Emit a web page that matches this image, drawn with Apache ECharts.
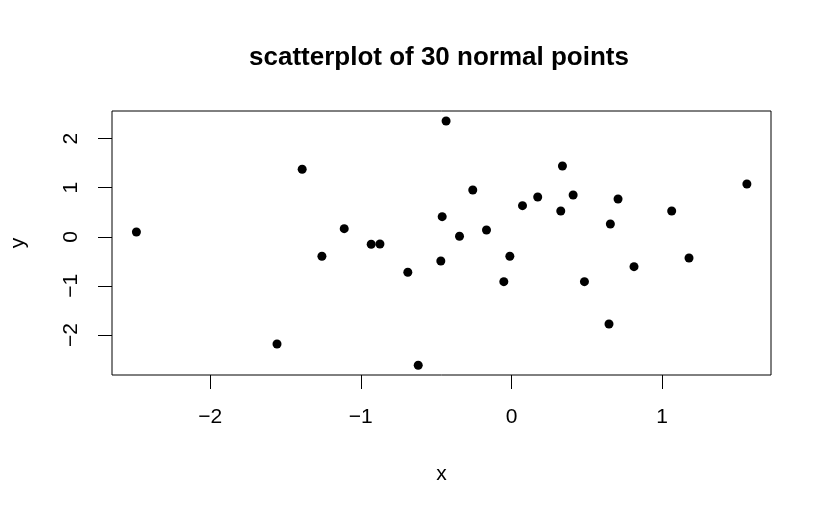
<!DOCTYPE html>
<html>
<head>
<meta charset="utf-8">
<script src="https://cdn.jsdelivr.net/npm/echarts@6/dist/echarts.min.js"></script>
<style>
  html, body { margin: 0; padding: 0; background: #fff; }
  #chart { width: 830px; height: 515px; }
</style>
</head>
<body>
<div id="chart"></div>
<script>
// 30 normal points
const xValues = [
  -2.489, -1.389, -1.110, -1.258, -0.931, -0.873, -0.688, -1.556, -0.619, -0.434,
  -0.460, -0.469, -0.345, -0.257, -0.166, -0.011, -0.051, 0.073, 0.174, 0.338,
  0.327, 0.409, 0.484, 0.656, 0.707, 0.647, 0.813, 1.063, 1.178, 1.562
];
const yValues = [
  0.098, 1.375, 0.165, -0.397, -0.153, -0.147, -0.723, -2.183, -2.617, 2.358,
  0.410, -0.493, 0.010, 0.953, 0.138, -0.397, -0.914, 0.634, 0.811, 1.442,
  0.525, 0.851, -0.914, 0.261, 0.770, -1.776, -0.609, 0.525, -0.432, 1.075
];
const xTicks = [-2, -1, 0, 1];
const yTicks = [-2, -1, 0, 1, 2];

const font = "'Liberation Sans', Arial, sans-serif";

// R 用的是真正的减号
function minus(v) {
  return String(v).replace("-", "\u2212");
}

const chart = echarts.init(document.getElementById("chart"), null, { renderer: "canvas" });

chart.setOption({
  backgroundColor: "#fff",
  animation: false,
  title: {
    text: "scatterplot of 30 normal points",
    left: 244,
    top: 40,
    textStyle: { fontFamily: font, fontSize: 26, fontWeight: "bold", color: "#000" },
  },
  grid: {
    left: 112,
    right: 59,
    top: 111,
    bottom: 140,
    show: true,
    borderColor: "#000",
    borderWidth: 1,
  },
  xAxis: {
    type: "value",
    min: -2.651,
    max: 1.722,
    name: "x",
    nameLocation: "middle",
    nameGap: 89,
    nameTextStyle: { fontFamily: font, fontSize: 21, color: "#000" },
    axisLine: { show: false, onZero: false },
    splitLine: { show: false },
    axisTick: {
      show: true,
      customValues: xTicks,
      length: 14,
      lineStyle: { color: "#000", width: 1 },
    },
    axisLabel: {
      customValues: xTicks,
      formatter: minus,
      margin: 32,
      fontFamily: font,
      fontSize: 21,
      color: "#000",
    },
  },
  yAxis: {
    type: "value",
    min: -2.815,
    max: 2.562,
    name: "y",
    nameLocation: "middle",
    nameRotate: 90,
    nameGap: 83,
    nameTextStyle: { fontFamily: font, fontSize: 21, color: "#000" },
    axisLine: { show: false, onZero: false },
    splitLine: { show: false },
    axisTick: {
      show: true,
      customValues: yTicks,
      length: 14,
      lineStyle: { color: "#000", width: 1 },
    },
    axisLabel: {
      customValues: yTicks,
      formatter: minus,
      rotate: 90,
      margin: 30,
      fontFamily: font,
      fontSize: 21,
      color: "#000",
    },
  },
  series: [
    {
      type: "scatter",
      data: xValues.map((x, i) => [x, yValues[i]]),
      symbol: "circle",
      symbolSize: 9,
      itemStyle: { color: "#000", opacity: 1 },
    },
  ],
});
</script>
</body>
</html>
